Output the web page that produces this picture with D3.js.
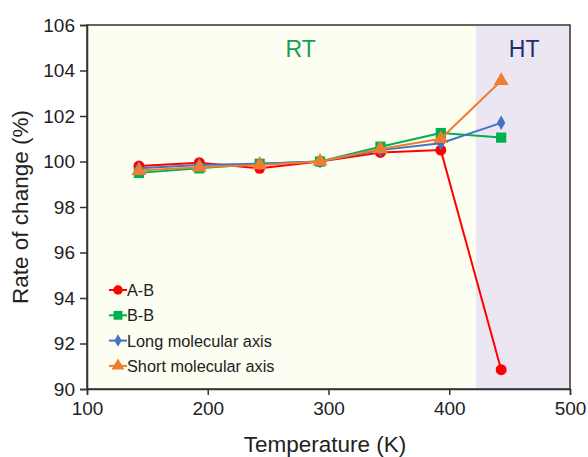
<!DOCTYPE html>
<html><head><meta charset="utf-8">
<script src="https://cdn.jsdelivr.net/npm/d3@7"></script>
<style>body{margin:0;background:#fff;}svg{display:block;font-family:"Liberation Sans",Arial,sans-serif;}</style>
</head><body><svg id="c" width="588" height="457"></svg>
<script>
const temps = [143, 193, 243, 293, 343, 393, 443];
const seriesNames = ["A-B", "B-B", "Long molecular axis", "Short molecular axis"];
const abVals = [99.8, 99.95, 99.7, 100.0, 100.4, 100.5, 90.85];
const bbVals = [99.5, 99.7, 99.9, 100.0, 100.65, 101.25, 101.05];
const longVals = [99.7, 99.85, 99.9, 100.0, 100.5, 100.8, 101.7];
const shortVals = [99.6, 99.75, 99.85, 100.0, 100.55, 101.0, 103.55];
const xTicks = [100, 200, 300, 400, 500];
const yTicks = [90, 92, 94, 96, 98, 100, 102, 104, 106];
const regionBoundary = 422;
const regionLabels = ["RT", "HT"];

const svg = d3.select("#c");
const L = 87, R = 570, T = 25, B = 389;
const x = d3.scaleLinear().domain([100, 500]).range([L, R]);
const y = d3.scaleLinear().domain([90, 106]).range([B, T]);

// backgrounds
svg.append("rect").attr("x", x(100)).attr("y", T).attr("width", x(regionBoundary) - x(100)).attr("height", B - T).attr("fill", "#fbfef0");
svg.append("rect").attr("x", x(regionBoundary)).attr("y", T).attr("width", x(500) - x(regionBoundary)).attr("height", B - T).attr("fill", "#ece6f3");

svg.append("text").attr("x", x(277)).attr("y", 57).attr("text-anchor", "middle").attr("font-size", 23).attr("fill", "#1a9b58").text(regionLabels[0]);
svg.append("text").attr("x", x(462)).attr("y", 57).attr("text-anchor", "middle").attr("font-size", 23).attr("fill", "#1f2f6e").text(regionLabels[1]);

// frame
svg.append("rect").attr("x", L).attr("y", T).attr("width", R - L).attr("height", B - T).attr("fill", "none").attr("stroke", "#333").attr("stroke-width", 1.5);

const ax = svg.append("g").attr("transform", `translate(0,${B})`)
  .call(d3.axisBottom(x).tickValues(xTicks).tickSize(6).tickPadding(7).tickFormat(d3.format("d")));
const ay = svg.append("g").attr("transform", `translate(${L},0)`)
  .call(d3.axisLeft(y).tickValues(yTicks).tickSize(7).tickPadding(5).tickFormat(d3.format("d")));
[ax, ay].forEach(g => {
  g.select(".domain").attr("stroke", "#333").attr("stroke-width", 1.5);
  g.selectAll(".tick line").attr("stroke", "#333").attr("stroke-width", 1.5);
  g.selectAll(".tick text").attr("font-size", 19).attr("fill", "#222").attr("font-family", "Liberation Sans, Arial, sans-serif");
});

svg.append("text").attr("x", 325).attr("y", 452).attr("text-anchor", "middle").attr("font-size", 22.5).attr("fill", "#222").text("Temperature (K)");
svg.append("text").attr("transform", `translate(28,${(T + B) / 2}) rotate(-90)`).attr("text-anchor", "middle").attr("font-size", 22.5).attr("fill", "#222").text("Rate of change (%)");

const colors = ["#ff0000", "#00b050", "#4472c4", "#ed7d31"];
const shapes = [d3.symbolCircle, d3.symbolSquare, d3.symbolDiamond, d3.symbolTriangle];
const sizes = [95, 105, 60, 95];
const allVals = [abVals, bbVals, longVals, shortVals];
const line = d3.line().x((d, i) => x(temps[i])).y(d => y(d));

allVals.forEach((vals, k) => {
  const g = svg.append("g");
  g.append("path").datum(vals).attr("d", line).attr("fill", "none").attr("stroke", colors[k]).attr("stroke-width", 2);
  g.selectAll("path.m").data(vals).join("path").attr("class", "m")
    .attr("transform", (d, i) => `translate(${x(temps[i])},${y(d)})`)
    .attr("d", d3.symbol().type(shapes[k]).size(sizes[k])).attr("fill", colors[k]);
});

// legend
const lg = svg.append("g");
seriesNames.forEach((n, k) => {
  const ly = 290 + k * 25.3;
  lg.append("line").attr("x1", 109).attr("x2", 127).attr("y1", ly).attr("y2", ly).attr("stroke", colors[k]).attr("stroke-width", 2);
  lg.append("path").attr("transform", `translate(118,${ly})`).attr("d", d3.symbol().type(shapes[k]).size(sizes[k] * 0.75)).attr("fill", colors[k]);
  lg.append("text").attr("x", 127).attr("y", ly + 6).attr("font-size", 16.3).attr("fill", "#222").text(n);
});
</script></body></html>
